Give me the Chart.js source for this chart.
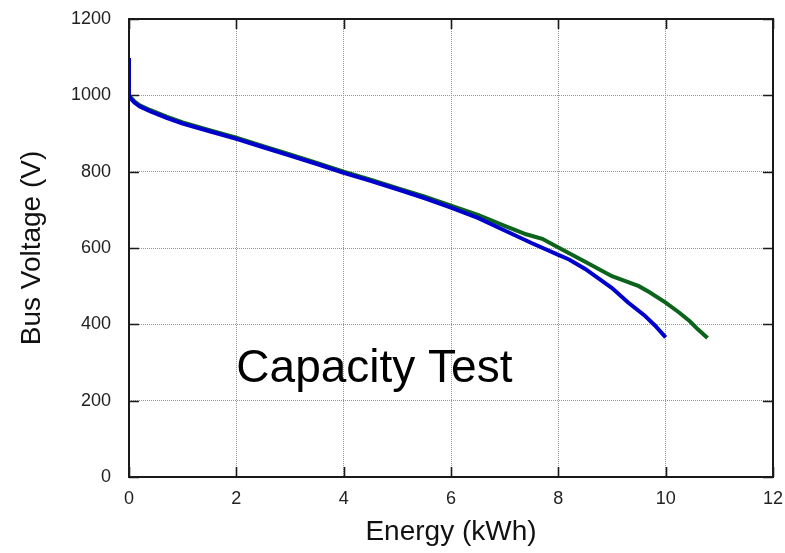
<!DOCTYPE html>
<html>
<head>
<meta charset="utf-8">
<script src="https://cdn.jsdelivr.net/npm/chart.js@4/dist/chart.umd.min.js"></script>
<style>
  html, body { margin: 0; padding: 0; background: #ffffff; }
  #wrap { width: 785px; height: 553px; }
</style>
</head>
<body>
<div id="wrap"><canvas id="c" width="785" height="553"></canvas></div>
<script>
// Discharge run 1 (blue): energy delivered vs bus voltage
const blueEnergy  = [0, 0, 0.03, 0.1, 0.2, 0.4, 0.7, 1.0, 1.5, 2.0, 2.5, 3.0, 3.5, 4.0, 4.5, 5.0, 5.5, 6.0, 6.5, 7.0, 7.5, 8.0, 8.2, 8.5, 8.8, 9.0, 9.3, 9.6, 9.8, 10.0];
const blueVoltage = [1098, 1000, 992, 981, 971, 958, 941, 926, 906, 886, 864, 842, 820, 797, 776, 754, 731, 706, 679, 646, 613, 582, 570, 545, 515, 495, 457, 424, 397, 366];

// Discharge run 2 (green)
const greenEnergy  = [0, 0, 0.03, 0.1, 0.2, 0.4, 0.7, 1.0, 1.5, 2.0, 2.5, 3.0, 3.5, 4.0, 4.5, 5.0, 5.5, 6.0, 6.5, 7.0, 7.4, 7.7, 8.0, 8.5, 9.0, 9.2, 9.5, 9.7, 10.0, 10.25, 10.45, 10.6, 10.78];
const greenVoltage = [1052, 1000, 995, 984, 974, 961, 944, 929, 909, 889, 867, 845, 823, 800, 779, 757, 735, 711, 687, 658, 636, 624, 601, 564, 526, 516, 500, 484, 457, 431, 408, 387, 364];

// Axis ticks
const energyTicks  = [0, 2, 4, 6, 8, 10, 12];
const voltageTicks = [0, 200, 400, 600, 800, 1000, 1200];

// Annotation anchor (data coordinates)
const noteText = 'Capacity Test';
const noteAt = { x: 2, y: 250 };

const toPoints = (xs, ys) => xs.map((x, i) => ({ x: x, y: ys[i] }));

// Frame around the plot with short inward tick marks on all four sides
const framePlugin = {
  id: 'frame',
  beforeDatasetsDraw(chart) {
    const { ctx, chartArea: a, scales } = chart;
    ctx.save();
    ctx.strokeStyle = '#1a1a1a';
    ctx.lineWidth = 1.6;
    const len = 10;
    ctx.beginPath();
    energyTicks.forEach(v => {
      const px = Math.round(scales.x.getPixelForValue(v)) + 0.5;
      ctx.moveTo(px, a.bottom); ctx.lineTo(px, a.bottom - len);
      ctx.moveTo(px, a.top); ctx.lineTo(px, a.top + len);
    });
    voltageTicks.forEach(v => {
      const py = Math.round(scales.y.getPixelForValue(v)) + 0.5;
      ctx.moveTo(a.left, py); ctx.lineTo(a.left + len, py);
      ctx.moveTo(a.right, py); ctx.lineTo(a.right - len, py);
    });
    ctx.stroke();
    ctx.lineWidth = 2;
    ctx.strokeRect(a.left, a.top, a.right - a.left, a.bottom - a.top);
    ctx.restore();
  },
  afterDatasetsDraw(chart) {
    const { ctx, scales } = chart;
    ctx.save();
    ctx.fillStyle = '#000000';
    ctx.font = '46px "Liberation Sans", Arial, sans-serif';
    ctx.textAlign = 'left';
    ctx.textBaseline = 'alphabetic';
    ctx.fillText(noteText, scales.x.getPixelForValue(noteAt.x), scales.y.getPixelForValue(noteAt.y));
    ctx.restore();
  }
};

const tickFont = { family: '"Liberation Sans", Arial, sans-serif', size: 18 };

new Chart(document.getElementById('c'), {
  type: 'scatter',
  data: {
    datasets: [
      {
        label: 'Run 1',
        data: toPoints(blueEnergy, blueVoltage),
        showLine: true,
        borderColor: '#0000cc',
        backgroundColor: '#0000cc',
        borderWidth: 4,
        pointRadius: 0,
        tension: 0
      },
      {
        label: 'Run 2',
        data: toPoints(greenEnergy, greenVoltage),
        showLine: true,
        borderColor: '#0b631c',
        backgroundColor: '#0b631c',
        borderWidth: 4,
        pointRadius: 0,
        tension: 0
      }
    ]
  },
  options: {
    responsive: false,
    animation: false,
    events: [],
    layout: { padding: { top: 19, right: 12, left: 0, bottom: 0 } },
    plugins: { legend: { display: false }, tooltip: { enabled: false } },
    scales: {
      x: {
        type: 'linear',
        min: 0, max: 12,
        afterFit(scale) { scale.height = 76; scale.paddingLeft = 0; scale.paddingRight = 0; },
        afterBuildTicks(scale) { scale.ticks = energyTicks.map(v => ({ value: v })); },
        ticks: { color: '#222', font: tickFont, padding: 11, maxRotation: 0, callback: v => String(v) },
        grid: { color: '#9a9494', lineWidth: 1, drawTicks: false },
        border: { display: false, dash: [1, 1] },
        title: {
          display: true,
          text: 'Energy (kWh)',
          color: '#111',
          font: { family: '"Liberation Sans", Arial, sans-serif', size: 28 },
          padding: { top: 0, bottom: 4 }
        }
      },
      y: {
        type: 'linear',
        min: 0, max: 1200,
        afterFit(scale) { scale.width = 129; scale.paddingTop = 0; scale.paddingBottom = 0; },
        afterBuildTicks(scale) { scale.ticks = voltageTicks.map(v => ({ value: v })); },
        ticks: { color: '#222', font: tickFont, padding: 18, callback: v => String(v) },
        grid: { color: '#9a9494', lineWidth: 1, drawTicks: false },
        border: { display: false, dash: [1, 1] },
        title: {
          display: true,
          text: 'Bus Voltage (V)',
          color: '#111',
          font: { family: '"Liberation Sans", Arial, sans-serif', size: 28 },
          padding: { top: 15, bottom: 0 }
        }
      }
    }
  },
  plugins: [framePlugin]
});
</script>
</body>
</html>
